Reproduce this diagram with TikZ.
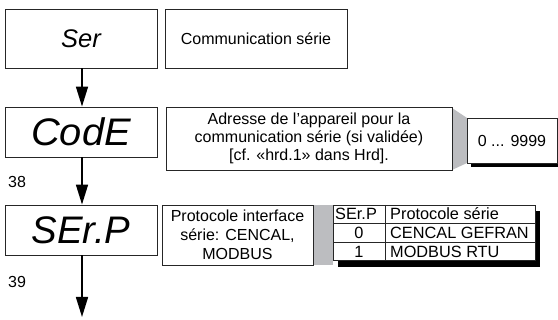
\documentclass[tikz,border=0pt]{standalone}
\usepackage{fontspec}
\setmainfont{Liberation Sans}
\usetikzlibrary{arrows.meta,positioning}
\definecolor{bandgray}{RGB}{188,189,192}
\tikzset{
  box/.style={draw=black!85, line width=0.9pt, fill=white, inner sep=0pt, align=center,
     font=\fontsize{16}{18}\selectfont},
  flow/.style={line width=1.6pt, -{Triangle[length=20pt,width=12pt]}},
  lbl/.style={font=\fontsize{16}{18}\selectfont, inner sep=0pt},
  tbl/.style={font=\fontsize{16.3}{18}\selectfont, inner sep=0pt, anchor=base west},
}
\begin{document}
\begin{tikzpicture}[x=1pt,y=-1pt]
\useasboundingbox (0,0) rectangle (558,320);
% row 1
\node[box, minimum width=152pt, minimum height=59pt, font=\fontsize{25.5}{25}\selectfont\itshape] (ser) at (81,38.5) {Ser};
\node[box, minimum width=182pt, minimum height=59pt] (comm) at (256,38.5) {Communication série};
% row 2
\node[box, minimum width=152pt, minimum height=50pt] (code) at (81,132) {\fontsize{48}{48}\selectfont\itshape\scalebox{0.83}[0.8]{CodE}};
\fill[bandgray] (452,108) -- (467,118) -- (467,163) -- (452,170) -- cycle;
\node[box, minimum width=286pt, minimum height=63pt, fill=none] (adr) at (309,138.5) {Adresse de l’appareil pour la\\communication série (si validée)\\{}[cf. «hrd.1» dans Hrd].};
\fill[black] (471,122) rectangle (561,167);
\node[box, minimum width=90pt, minimum height=45pt] (val) at (512,140.5) {0 ... 9999};
\node[lbl, anchor=west] (n38) at (8,182) {38};
% row 3
\node[box, minimum width=152pt, minimum height=50pt] (serp) at (81,230) {\fontsize{48}{48}\selectfont\itshape\scalebox{0.8}[0.8]{SEr.P}};
\fill[bandgray] (313,205) rectangle (333,265);
\node[box, minimum width=151pt, minimum height=60pt, fill=none, font=\fontsize{16}{19}\selectfont] (proto) at (237.5,235) {Protocole interface\\série: CENCAL,\\MODBUS};
\fill[black] (338,211) rectangle (540,267);
\node[box, minimum width=202pt, minimum height=55pt] (tab) at (434,232.5) {};
\draw[line width=0.9pt, draw=black!85] (385,205) -- (385,260);
\draw[line width=0.7pt, draw=black!85] (333,223.3) -- (535,223.3);
\draw[line width=0.7pt, draw=black!85] (333,242.7) -- (535,242.7);
\node[tbl] (h1) at (335,219.5) {SEr.P};
\node[tbl] (h2) at (390,219.5) {Protocole série};
\node[tbl, anchor=base] (r1a) at (359,239) {0};
\node[tbl] (r1b) at (390,239) {CENCAL GEFRAN};
\node[tbl, anchor=base] (r2a) at (359,257.5) {1};
\node[tbl] (r2b) at (390,257.5) {MODBUS RTU};
\node[lbl, anchor=west] (n39) at (8,282) {39};
\coordinate (endpt) at (82,317);
% arrows
\draw[flow] (ser.south -| 82,0) -- (code.north -| 82,0);
\draw[flow] (code.south -| 82,0) -- (serp.north -| 82,0);
\draw[flow] (serp.south -| 82,0) -- (endpt);
\end{tikzpicture}
\end{document}
